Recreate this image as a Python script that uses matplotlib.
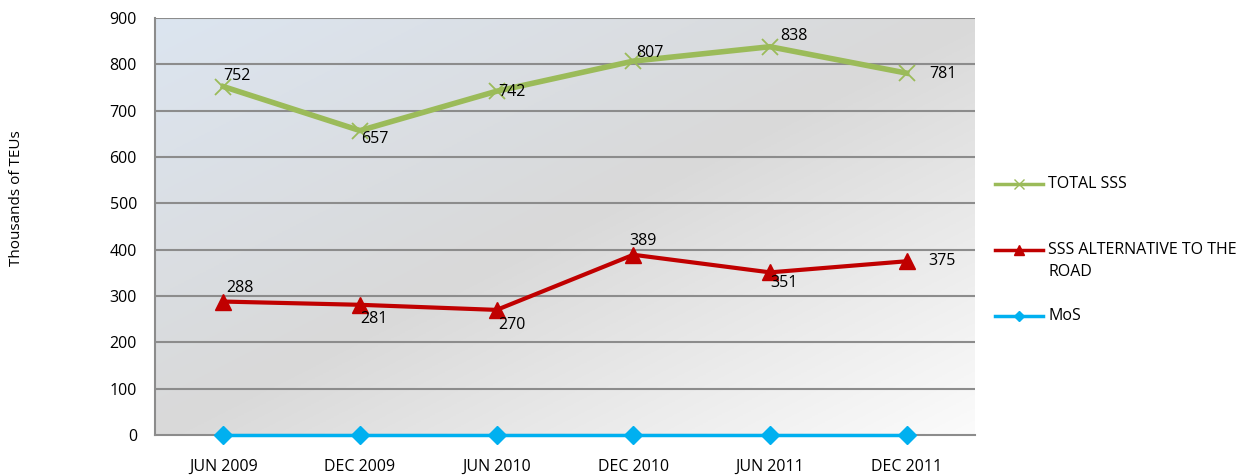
import numpy as np
import matplotlib.pyplot as plt
from matplotlib.colors import LinearSegmentedColormap
from matplotlib.lines import Line2D

periods = ["JUN 2009", "DEC 2009", "JUN 2010", "DEC 2010", "JUN 2011", "DEC 2011"]
total_sss = [752, 657, 742, 807, 838, 781]
sss_alt_road = [288, 281, 270, 389, 351, 375]
mos = [0, 0, 0, 0, 0, 0]
y_ticks = [0, 100, 200, 300, 400, 500, 600, 700, 800, 900]

plt.rcParams['font.family'] = ['Open Sans', 'DejaVu Sans']

W, H, DPI = 1246, 476, 100
fig = plt.figure(figsize=(W / DPI, H / DPI), dpi=DPI)
ax = fig.add_axes([155 / W, 1 - 435 / H, 820 / W, 417 / H])

x = np.arange(len(periods))
x0, x1 = -0.5, len(periods) - 0.5

# diagonal gradient fill for the plot area: blue-grey top-left, white bottom-right
gx, gy = np.meshgrid(np.linspace(0, 1, 300), np.linspace(0, 1, 300))
t = (gx + (1 - gy)) / 2
cmap = LinearSegmentedColormap.from_list(
    "bg", [(0.0, "#dce5f0"), (0.5, "#d9d9d9"), (1.0, "#fbfbfb")])
ax.imshow(t, cmap=cmap, extent=(x0, x1, 0, 900), origin='lower',
          aspect='auto', zorder=0, vmin=0, vmax=1)
ax.set_xlim(x0, x1)
ax.set_ylim(0, 900)

for yv in y_ticks[1:]:
    ax.axhline(yv, color="#8c8c8c", lw=1.5, zorder=1)

for s in ["top", "right"]:
    ax.spines[s].set_visible(False)
for s in ["left", "bottom"]:
    ax.spines[s].set_color("#8c8c8c")
    ax.spines[s].set_linewidth(1.5)
    ax.spines[s].set_zorder(1)

ax.set_yticks(y_ticks)
ax.set_xticks(x)
ax.set_xticklabels(periods)
ax.tick_params(axis='both', length=0, labelsize=11.5, colors="black")
ax.tick_params(axis='y', pad=13)
ax.tick_params(axis='x', pad=17)

green = "#9bbb59"
red = "#c00000"
blue = "#00b0f0"

ax.plot(x, total_sss, color=green, lw=4, marker='x', ms=12, mew=1.3, zorder=3)
ax.plot(x, sss_alt_road, color=red, lw=3, marker='^', ms=12, zorder=3)
ax.plot(x, mos, color=blue, lw=2.5, marker='D', ms=9, zorder=4, clip_on=False)

green_off = [(0, 11), (1, -8), (2, -1), (3, 8), (10, 11), (23, -1)]
red_off = [(3, 14), (0, -14), (2, -15), (-4, 14), (0, -11), (22, 0)]
for xi, v, (dx, dy) in zip(x, total_sss, green_off):
    ax.annotate(str(v), (xi, v), xytext=(dx, dy), textcoords='offset pixels',
                ha='left', va='center', fontsize=11.5, zorder=5)
for xi, v, (dx, dy) in zip(x, sss_alt_road, red_off):
    ax.annotate(str(v), (xi, v), xytext=(dx, dy), textcoords='offset pixels',
                ha='left', va='center', fontsize=11.5, zorder=5)

fig.text(17 / W, 1 - 198 / H, "Thousands of TEUs", rotation=90,
         ha='center', va='center', fontsize=11)

# legend drawn in figure pixel coordinates
legend_items = [
    (green, 'x', 7, 184, "TOTAL SSS", dict(mew=1)),
    (red, '^', 7, 261, "SSS ALTERNATIVE TO THE\nROAD", {}),
    (blue, 'D', 5, 316, "MoS", {}),
]
for color, mk, ms, ypix, label, extra in legend_items:
    yl = 1 - ypix / H
    mk_y = 1 - (250 if mk == '^' else ypix) / H
    fig.add_artist(Line2D([995 / W, 1043 / W], [mk_y, mk_y],
                          transform=fig.transFigure, color=color, lw=2.5))
    fig.add_artist(Line2D([1019 / W], [mk_y], transform=fig.transFigure,
                          color=color, marker=mk, ms=ms, lw=0, **extra))
    fig.text(1048 / W, yl, label, ha='left', va='center', fontsize=11.5,
             linespacing=1.5)

fig.savefig("out.png", dpi=DPI)
